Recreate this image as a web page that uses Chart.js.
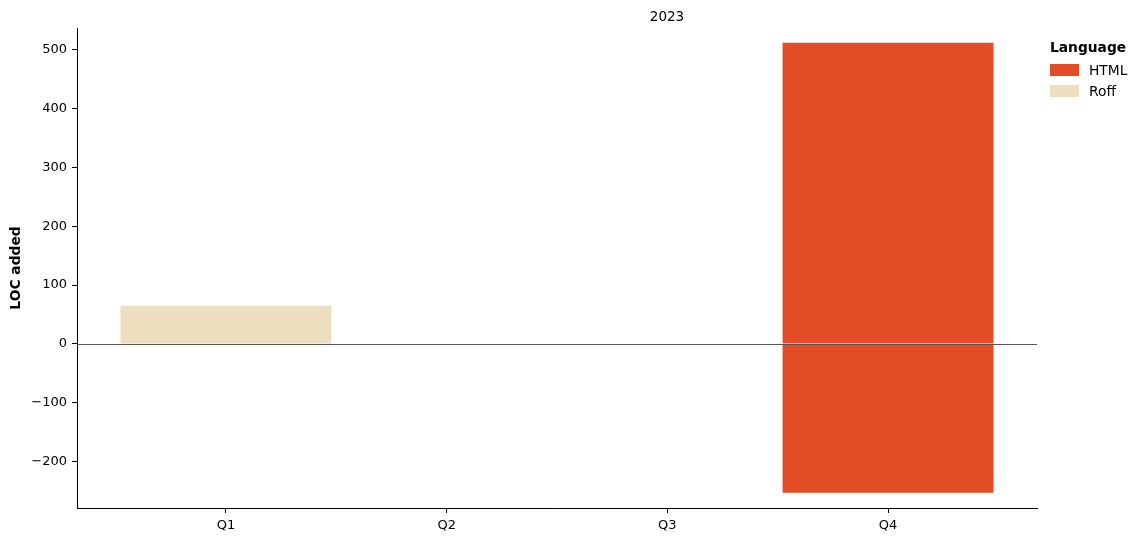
<!DOCTYPE html>
<html>
<head>
<meta charset="utf-8">
<script src="https://cdn.jsdelivr.net/npm/chart.js@4/dist/chart.umd.min.js"></script>
<style>
  html, body { margin: 0; padding: 0; background: #fff; }
  #wrap { position: relative; width: 1142px; height: 542px; font-family: "DejaVu Sans", sans-serif; color: #000; }
  canvas { position: absolute; left: 0; top: 0; }
  #title { position: absolute; left: 617px; width: 100px; top: 8px; text-align: center; font-size: 13.5px; }
  #legend { position: absolute; left: 1050px; top: 39px; font-size: 13.8px; }
  #legend .lt { font-weight: bold; line-height: 16px; margin-bottom: 4px; }
  #legend .it { display: flex; align-items: center; height: 21px; }
  #legend .sw { width: 29px; height: 12px; margin-right: 10px; }
</style>
</head>
<body>
<div id="wrap">
  <canvas id="c" width="1142" height="542"></canvas>
  <div id="title">2023</div>
  <div id="legend"></div>
</div>
<script>
// ---- data ----
const quarters = ['Q1', 'Q2', 'Q3', 'Q4'];
const htmlAdded = [null, null, null, 512];
const htmlRemoved = [null, null, null, -253];
const roffAdded = [65, null, null, null];
const yTicks = [-200, -100, 0, 100, 200, 300, 400, 500];
const languages = ['HTML', 'Roff'];
const langColors = ['#E34C26', '#ECDEBE'];

function pts(arr) { return arr.map((v, i) => ({ x: i, y: v })); }

// legend (HTML)
const leg = document.getElementById('legend');
leg.innerHTML = '<div class="lt">Language</div>' + languages.map((l, i) =>
  '<div class="it"><div class="sw" style="background:' + langColors[i] + '"></div>' + l + '</div>').join('');

const zeroLine = {
  id: 'zeroLine',
  afterDatasetsDraw(chart) {
    const y = chart.scales.y.getPixelForValue(0);
    const ctx = chart.ctx;
    ctx.save();
    ctx.strokeStyle = '#555';
    ctx.lineWidth = 1;
    ctx.beginPath();
    ctx.moveTo(chart.chartArea.left, Math.round(y) + 0.5);
    ctx.lineTo(chart.chartArea.right, Math.round(y) + 0.5);
    ctx.stroke();
    ctx.restore();
  }
};

const font = { family: 'DejaVu Sans', size: 13 };

new Chart(document.getElementById('c'), {
  type: 'bar',
  data: {
    datasets: [
      { label: 'HTML', data: pts(htmlAdded), backgroundColor: langColors[0], stack: 's' },
      { label: 'HTML ', data: pts(htmlRemoved), backgroundColor: langColors[0], stack: 's' },
      { label: 'Roff', data: pts(roffAdded), backgroundColor: langColors[1], stack: 's' }
    ]
  },
  options: {
    responsive: false,
    animation: false,
    categoryPercentage: 1,
    barPercentage: 0.956,
    layout: { padding: { left: 0, right: 105, top: 28, bottom: 0 } },
    plugins: { legend: { display: false }, tooltip: { enabled: false }, title: { display: false } },
    scales: {
      x: {
        type: 'linear',
        stacked: true,
        offset: false,
        min: -0.675,
        max: 3.675,
        afterBuildTicks: (s) => { s.ticks = quarters.map((q, i) => ({ value: i })); },
        afterFit: (s) => { s.height = 34; },
        ticks: { color: '#000', font: font, padding: 5, callback: (v) => quarters[v] },
        grid: { offset: false, drawOnChartArea: false, tickLength: 5, tickColor: '#000', tickWidth: 1 },
        border: { display: true, color: '#000', width: 1 }
      },
      y: {
        stacked: true,
        min: -279,
        max: 537,
        afterBuildTicks: (s) => { s.ticks = yTicks.map(v => ({ value: v })); },
        afterFit: (s) => { s.width = 77; },
        ticks: { color: '#000', font: font, padding: 5, callback: (v) => String(v).replace('-', '\u2212') },
        grid: { drawOnChartArea: false, tickLength: 5, tickColor: '#000', tickWidth: 1 },
        border: { display: true, color: '#000', width: 1 },
        title: { display: true, text: 'LOC added', color: '#000', font: { family: 'DejaVu Sans', size: 13.8, weight: 'bold' }, padding: { top: 8, bottom: 0 } }
      }
    }
  },
  plugins: [zeroLine]
});
</script>
</body>
</html>
